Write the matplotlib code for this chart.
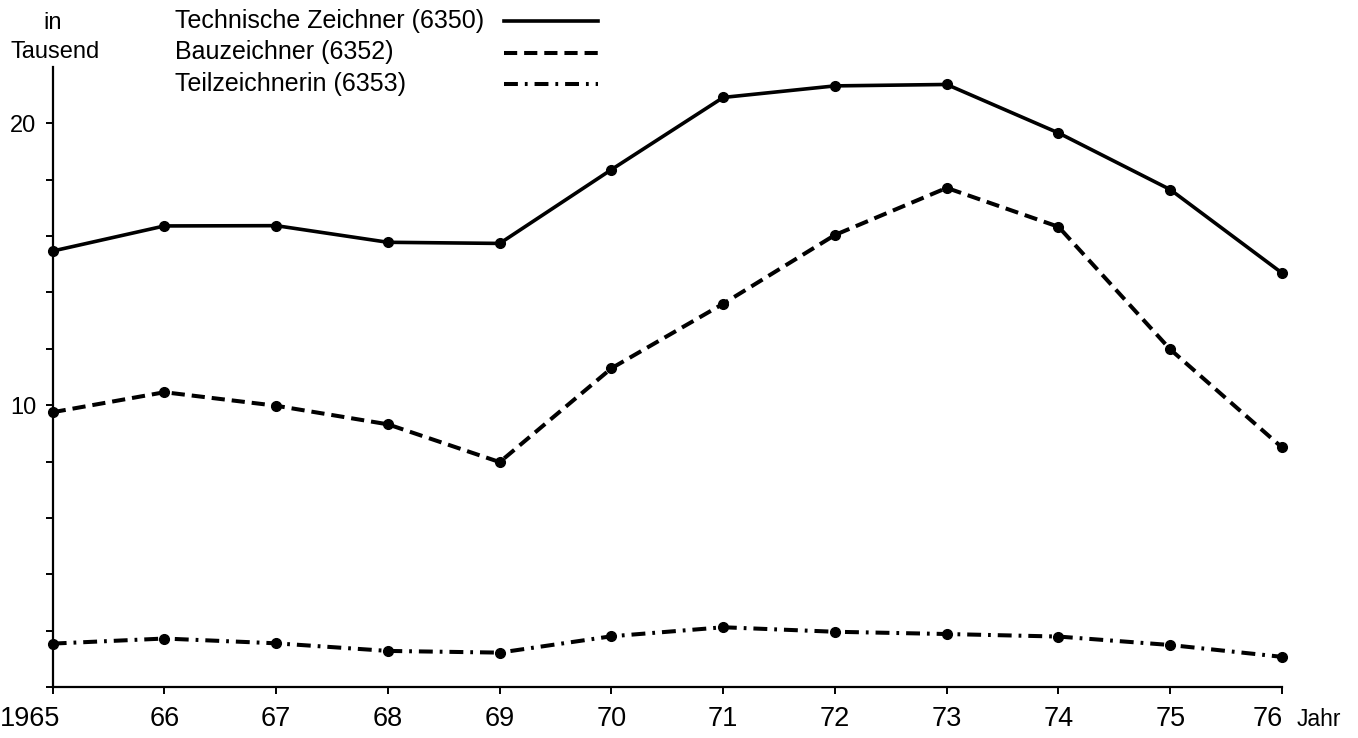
import matplotlib
matplotlib.use('Agg')
import matplotlib.pyplot as plt
from matplotlib.transforms import ScaledTranslation

plt.rcParams['font.family'] = ['Liberation Sans', 'DejaVu Sans']
plt.rcParams['lines.scale_dashes'] = False

years = [1965, 1966, 1967, 1968, 1969, 1970, 1971, 1972, 1973, 1974, 1975, 1976]
year_labels = ['1965', '66', '67', '68', '69', '70', '71', '72', '73', '74', '75', '76']
tech = [15.47, 16.36, 16.37, 15.78, 15.74, 18.36, 20.92, 21.33, 21.38, 19.66, 17.65, 14.69]
bau = [9.75, 10.46, 9.98, 9.32, 7.98, 11.31, 13.60, 16.04, 17.71, 16.33, 11.98, 8.50]
teil = [1.54, 1.72, 1.55, 1.28, 1.22, 1.80, 2.12, 1.96, 1.88, 1.79, 1.49, 1.07]
names = ['Technische Zeichner (6350)', 'Bauzeichner (6352)', 'Teilzeichnerin (6353)']

W, H = 1358, 738
fig = plt.figure(figsize=(W / 100, H / 100), dpi=100)
x0, x1, y0, y1 = 52.7, 1282, 687, 67
ax = fig.add_axes([x0 / W, 1 - y0 / H, (x1 - x0) / W, (y0 - y1) / H])

styles = ['-', (0, (9.5, 5)), (0, (10, 5, 2, 5))]
widths = [2.6, 2.9, 2.9]
for vals, ls, lw in zip([tech, bau, teil], styles, widths):
    ax.plot(years, vals, color='black', linestyle=ls, linewidth=lw,
            marker='o', markersize=7, clip_on=False)

ax.set_xlim(1965, 1976)
ax.set_ylim(0, 22)
ax.spines['top'].set_visible(False)
ax.spines['right'].set_visible(False)
ax.spines['left'].set_linewidth(1.6)
ax.spines['bottom'].set_linewidth(1.6)

ax.set_xticks(years)
ax.set_xticklabels(year_labels)
ax.set_yticks([10, 20])
ax.set_yticks([0, 2, 4, 6, 8, 12, 14, 16, 18], minor=True)
ax.tick_params(axis='x', direction='out', length=5, width=1.4, labelsize=19.5, pad=9)
ax.tick_params(axis='y', which='both', direction='out', length=5, width=1.4,
               labelsize=17, pad=7)

# end labels sit off-centre in the original
lab = ax.get_xticklabels()
lab[0].set_ha('right')
lab[0].set_transform(lab[0].get_transform() + ScaledTranslation(0.08, 0, fig.dpi_scale_trans))
lab[-1].set_ha('right')
lab[-1].set_transform(lab[-1].get_transform() + ScaledTranslation(0.01, 0, fig.dpi_scale_trans))

# overlay in pixel coordinates for the legend and axis captions
ov = fig.add_axes([0, 0, 1, 1])
ov.set_xlim(0, W)
ov.set_ylim(H, 0)
ov.axis('off')
ov.patch.set_alpha(0)

ov.text(53, 23, 'in', ha='center', va='center', fontsize=17)
ov.text(55, 52, 'Tausend', ha='center', va='center', fontsize=17)
ov.text(1297, 720, 'Jahr', ha='left', va='center', fontsize=16.5)

rows = [21, 52.5, 84]
for name, ls, lw, yy in zip(names, styles, widths, rows):
    ov.text(175, yy, name, ha='left', va='center', fontsize=18)
    ov.plot([504, 598], [yy, yy], color='black', linestyle=ls, linewidth=lw)

fig.savefig('out.png', dpi=100)
